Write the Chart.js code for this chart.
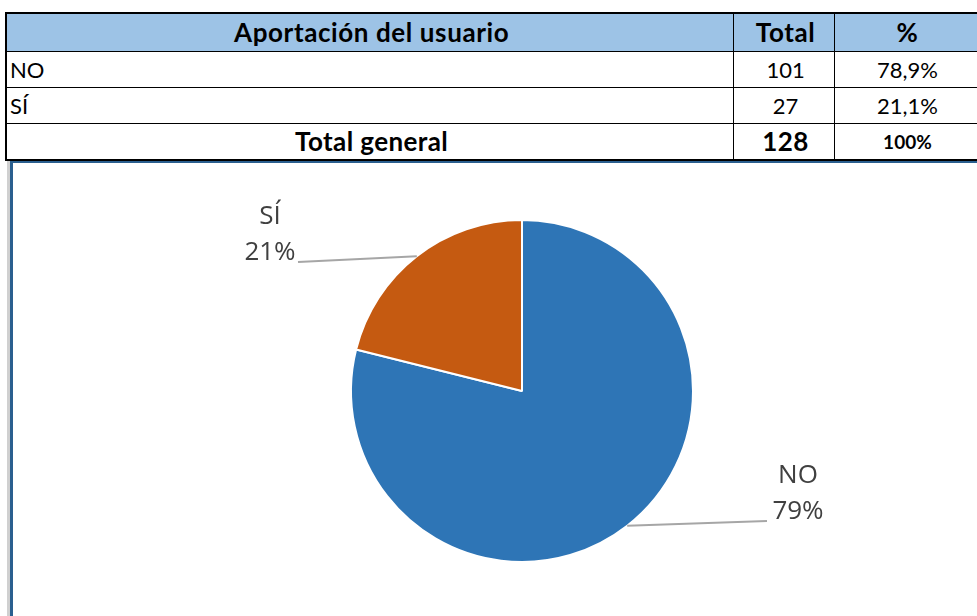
<!DOCTYPE html>
<html>
<head>
<meta charset="utf-8">
<script src="https://cdn.jsdelivr.net/npm/chart.js@4"></script>
<style>
  html, body { margin: 0; padding: 0; background: #fff; width: 977px; height: 616px; overflow: hidden; }
  #tabla {
    position: absolute; left: 5px; top: 12px;
    border-collapse: collapse; font-family: Lato, sans-serif; font-size: 22px; color: #000;
  }
  #tabla td, #tabla th { border: 1px solid #000; padding: 0 0 0 3px; height: 35px; line-height: 35px; }
  #tabla th { background: #9dc3e6; font-weight: bold; height: 37px; font-size: 26px; letter-spacing: 0.6px; }
  #tabla tr:last-child td { border-bottom: 2px solid #000; font-weight: bold; font-size: 26px; letter-spacing: 0.4px; }
  #tabla th:last-child, #tabla td:last-child { border-right: none; }
  #tabla { border-top: 2px solid #000; border-left: 2px solid #000; }
  .c { text-align: center; }
  #marco {
    position: absolute; left: 7px; top: 161px; width: 980px; height: 470px;
    border-left: 3px solid #d0d0d0;
  }
  #caja {
    position: absolute; left: 0; top: 0; width: 975px; height: 460px;
    border-left: 3px solid #2a5f8f; border-top: 2px solid #2a5f8f;
  }
</style>
</head>
<body>
<table id="tabla">
  <thead>
    <tr><th class="c" style="width:730px">Aportación del usuario</th><th class="c" style="width:97px">Total</th><th class="c" style="width:140px">%</th></tr>
  </thead>
  <tbody id="cuerpo"></tbody>
</table>
<div id="marco"><div id="caja"><canvas id="pieChart" width="972" height="455"></canvas></div></div>
<script>
// Datos
const categorias = ['NO', 'SÍ'];
const totales = [101, 27];
const porcentajes = ['78,9%', '21,1%'];
const etiquetasPct = ['79%', '21%'];
const colores = ['#2e75b6', '#c55a11'];

// Tabla
const cuerpo = document.getElementById('cuerpo');
categorias.forEach((cat, i) => {
    const tr = document.createElement('tr');
    tr.innerHTML = '<td>' + cat + '</td><td class="c">' + totales[i] + '</td><td class="c">' + porcentajes[i] + '</td>';
    cuerpo.appendChild(tr);
});
const total = totales.reduce((a, b) => a + b, 0);
const trTotal = document.createElement('tr');
trTotal.innerHTML = '<td class="c">Total general</td><td class="c">' + total + '</td><td class="c" style="font-size:19px;letter-spacing:0">100%</td>';
cuerpo.appendChild(trTotal);

// Etiquetas con líneas guía
const etiquetasPlugin = {
    id: 'etiquetas',
    afterDatasetsDraw(chart, args, opts) {
        const ctx = chart.ctx;
        const arcs = chart.getDatasetMeta(0).data;
        arcs.forEach((arc, i) => {
            const mid = (arc.startAngle + arc.endAngle) / 2;
            const x0 = arc.x + Math.cos(mid) * arc.outerRadius;
            const y0 = arc.y + Math.sin(mid) * arc.outerRadius;
            const off = opts.offsets[i];
            const x1 = arc.x + off.dx;
            const y1 = arc.y + off.dy;
            ctx.save();
            ctx.strokeStyle = '#a6a6a6';
            ctx.lineWidth = 2;
            ctx.beginPath();
            ctx.moveTo(x0, y0);
            ctx.lineTo(x1, y1);
            ctx.stroke();
            ctx.fillStyle = '#404040';
            ctx.font = '26px "Open Sans"';
            ctx.textAlign = 'center';
            ctx.textBaseline = 'middle';
            const right = x1 > arc.x;
            const cx = right ? x1 + 31 : x1 - 28;
            ctx.fillText(categorias[i], cx, y1 - 45);
            ctx.fillText(etiquetasPct[i], cx, y1 - 9);
            ctx.restore();
        });
    }
};

new Chart(document.getElementById('pieChart'), {
    type: 'pie',
    data: {
        labels: categorias,
        datasets: [{
            data: totales,
            backgroundColor: colores,
            borderColor: '#ffffff',
            borderWidth: 2
        }]
    },
    options: {
        responsive: false,
        animation: false,
        layout: { padding: { left: 337, right: 291, top: 55, bottom: 54 } },
        plugins: {
            legend: { display: false },
            tooltip: { enabled: false },
            etiquetas: { offsets: [{ dx: 245, dy: 130 }, { dx: -224, dy: -129 }] }
        }
    },
    plugins: [etiquetasPlugin]
});
</script>
</body>
</html>
